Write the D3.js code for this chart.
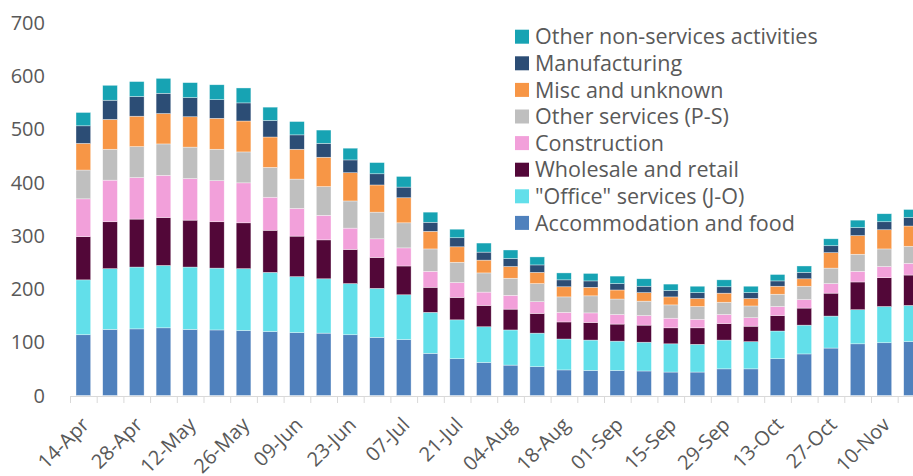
<!DOCTYPE html>
<html>
<head>
<meta charset="utf-8">
<script src="https://cdn.jsdelivr.net/npm/d3@7"></script>
<style>
  body { margin: 0; background: #fff; }
  svg { display: block; font-family: "Open Sans", Lato, sans-serif; }
</style>
</head>
<body>
<div id="chart"></div>
<script>
// weeks
const weeks = ["14-Apr","21-Apr","28-Apr","05-May","12-May","19-May","26-May","02-Jun",
  "09-Jun","16-Jun","23-Jun","30-Jun","07-Jul","14-Jul","21-Jul","28-Jul",
  "04-Aug","11-Aug","18-Aug","25-Aug","01-Sep","08-Sep","15-Sep","22-Sep",
  "29-Sep","06-Oct","13-Oct","20-Oct","27-Oct","03-Nov","10-Nov","17-Nov"];

// series, bottom to top
const accommodation = [114,124,125,127,124,123,122,120,118,117,114,109,105,79,69,62,57,54,48,47,47,46,44,44,50,50,69,78,89,97,99,101];
const office        = [103,114,116,117,117,116,116,111,105,102,96,92,84,77,73,67,66,63,58,57,55,54,53,52,54,51,52,54,60,64,68,68];
const wholesale     = [81,88,90,90,88,87,86,79,76,73,64,58,54,47,42,40,39,37,32,33,32,32,30,31,31,29,29,32,43,52,54,57];
const construction  = [71,78,78,79,78,77,75,62,52,46,40,35,34,30,28,25,26,22,18,18,18,18,18,16,17,16,17,16,18,20,21,22];
const otherServices = [54,58,58,59,59,59,58,56,55,54,51,50,47,42,38,36,32,34,29,32,29,27,25,24,23,22,23,25,29,32,33,32];
const misc          = [50,56,57,57,57,58,58,57,56,55,53,51,47,33,29,24,22,21,19,16,17,16,15,15,17,14,15,14,29,35,36,38];
const manufacturing = [33,36,37,38,36,35,34,31,27,26,24,21,20,17,17,15,15,14,13,12,12,12,12,11,12,11,10,12,13,15,15,16];
const otherNonServ  = [25,28,28,28,28,28,28,25,25,25,22,21,20,19,16,17,16,15,13,14,14,14,12,12,13,12,12,12,13,14,15,15];

const seriesNames = ["Accommodation and food", "\"Office\" services (J-O)", "Wholesale and retail",
  "Construction", "Other services (P-S)", "Misc and unknown", "Manufacturing", "Other non-services activities"];
const seriesValues = [accommodation, office, wholesale, construction, otherServices, misc, manufacturing, otherNonServ];
const colors = ["#4F81BD", "#62DFEA", "#520738", "#F2A0DA", "#BFBFBF", "#F79646", "#2C4D75", "#17A3B3"];

const yTicks = [0, 100, 200, 300, 400, 500, 600, 700];
const xTickLabels = weeks.filter((d, i) => i % 2 === 0);

const W = 913, H = 476;
const step = 26.7;

function buildChart() {
    const rows = weeks.map((w, i) => {
        const r = { week: w };
        seriesNames.forEach((s, k) => r[s] = seriesValues[k][i]);
        return r;
    });
    const stacked = d3.stack().keys(seriesNames)(rows);

    const x = d3.scaleBand()
        .domain(weeks)
        .range([70, 70 + step * weeks.length])
        .paddingInner(0.45)
        .paddingOuter(0.225);
    const y = d3.scaleLinear().domain([0, 700]).range([395.5, 22.4]);

    const svg = d3.select("#chart").append("svg")
        .attr("width", W)
        .attr("height", H);

    // bars
    svg.append("g").selectAll("g")
        .data(stacked)
        .join("g")
        .attr("fill", (d, i) => colors[i])
        .selectAll("rect")
        .data(d => d)
        .join("rect")
        .attr("x", d => x(d.data.week))
        .attr("width", x.bandwidth())
        .attr("y", d => y(d[1]))
        .attr("height", d => y(d[0]) - y(d[1]))
        .attr("stroke", "#fff")
        .attr("stroke-opacity", 0.6)
        .attr("stroke-width", 0.6);

    // x axis line + ticks between bars
    const ax = svg.append("g").attr("stroke", "#D9D9D9").attr("stroke-width", 1);
    ax.append("line")
        .attr("x1", 70).attr("x2", W)
        .attr("y1", 396.5).attr("y2", 396.5);
    ax.selectAll(".tk")
        .data(d3.range(weeks.length + 1))
        .join("line")
        .attr("class", "tk")
        .attr("x1", i => 70 + i * step + 0.5)
        .attr("x2", i => 70 + i * step + 0.5)
        .attr("y1", 396.5)
        .attr("y2", 403);

    // x labels
    svg.append("g").selectAll("text")
        .data(xTickLabels)
        .join("text")
        .attr("transform", d => `translate(${x(d) + x.bandwidth() / 2 + 7},${426}) rotate(-45)`)
        .attr("text-anchor", "end")
        .attr("fill", "#595959")
        .attr("font-size", 20)
        .text(d => d);

    // y labels
    svg.append("g").selectAll("text")
        .data(yTicks)
        .join("text")
        .attr("x", 45)
        .attr("y", d => y(d))
        .attr("dy", "0.36em")
        .attr("text-anchor", "end")
        .attr("fill", "#595959")
        .attr("font-size", 20)
        .text(d => d);

    // legend (top to bottom: last series first)
    const legend = svg.append("g");
    const order = d3.range(seriesNames.length).reverse();
    const item = legend.selectAll("g")
        .data(order)
        .join("g")
        .attr("transform", (d, i) => `translate(515,${36.7 + i * 26.6})`);
    item.append("rect")
        .attr("x", 0).attr("y", -7)
        .attr("width", 14).attr("height", 14)
        .attr("fill", d => colors[d]);
    item.append("text")
        .attr("x", 20)
        .attr("dy", "0.36em")
        .attr("fill", "#595959")
        .attr("font-size", 21.5)
        .text(d => seriesNames[d]);
}

buildChart();
</script>
</body>
</html>
